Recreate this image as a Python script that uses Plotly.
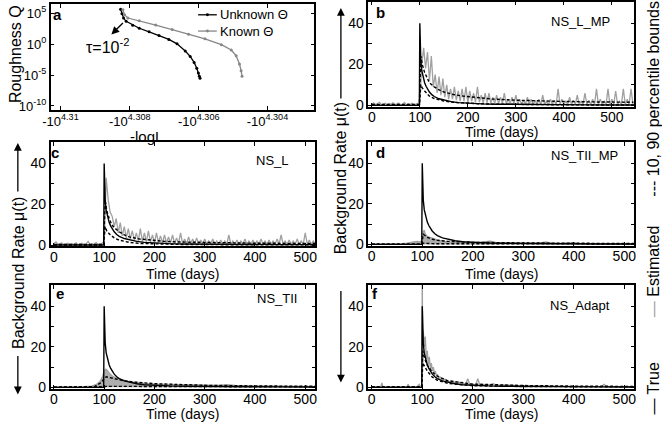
import plotly.graph_objects as go

W, H = 662, 427
FONT = "Liberation Sans, Arial, Helvetica, sans-serif"
GREY_EST = "rgb(160,160,160)"
GREY_KNOWN = "rgb(135,135,135)"

# ---------------- panel a : roughness vs -logL ----------------
negloglik_unknown = [-20336.0, -20334.2, -20332.0, -20328.5, -20319.6, -20310.7, -20297.4,
                     -20284.0, -20270.7, -20259.6, -20248.5, -20241.8, -20236.5, -20232.9,
                     -20230.7, -20229.4, -20228.5]
q_unknown = [4.3e5, 7.8e4, 1.6e4, 4.7e3, 1.1e3, 355, 93, 25, 5.6, 1.1, 7.8e-2, 9.8e-3,
             1.1e-3, 1.2e-4, 2.1e-5, 6.3e-6, 3.1e-6]
negloglik_known = [-20332.9, -20330.7, -20326.2, -20310.7, -20288.5, -20266.2, -20244.0,
                   -20221.8, -20199.6, -20186.2, -20179.6, -20175.1, -20172.9, -20171.6]
q_known = [3.4e5, 5.4e4, 1.6e4, 5.9e3, 1.2e3, 219, 40, 7.1, 0.79, 0.11, 1.3e-2, 5.9e-4,
           5.1e-5, 6.3e-6]
a_series_names = ["Unknown Θ", "Known Θ"]
a_xtick_exponents = [4.31, 4.308, 4.306, 4.304]
a_ytick_values = [1e5, 1e0, 1e-5, 1e-10]
a_ytick_labels = ["10<sup>5</sup>", "10<sup>0</sup>", "10<sup>-5</sup>", "10<sup>-10</sup>"]

# ---------------- time series panels ----------------
time_ticks = [0, 100, 200, 300, 400, 500]
rate_ticks = [0, 10, 20, 30, 40]
rate_ticklabels = ["0", "", "20", "", "40"]

days_true = [0, 99, 100, 101, 102, 104, 106, 108, 110, 113, 116, 120, 125, 130, 140, 150,
             165, 180, 200, 230, 260, 300, 350, 400, 450, 500, 550]
rate_true = [0, 0, 40, 28, 22, 17, 14.5, 12.5, 11, 9.3, 8, 6.5, 5.2, 4.3, 3.2, 2.5,
             1.8, 1.3, 1.0, 0.7, 0.55, 0.42, 0.33, 0.27, 0.22, 0.19, 0.16]

# NS_L_MP (b): estimated rate, one value every 4 days from day 0
est_b = [0.5, 1.2, 0.3, 0.8, 1.5, 0.2, 0.6, 1.0, 0.3, 0.9, 0.4, 1.3, 0.2, 0.7, 1.1, 0.3,
         0.5, 1.4, 0.2, 0.8, 0.4, 1.0, 0.3, 0.6, 0.9,
         0.5, 20, 28, 18, 26, 12, 24, 9, 15, 6,
         14, 5, 13, 4, 10, 3, 8, 3, 9, 2.5,
         7, 2, 8, 2, 9, 1.5, 7, 2, 6, 1.5,
         9, 1.5, 5, 1, 6, 1.2, 6, 1, 4, 1,
         5, 0.8, 4, 1, 6, 0.8, 3, 0.6, 4, 0.7,
         5, 0.5, 3, 0.6, 2.5, 0.5, 4, 0.5, 3, 0.4,
         2.5, 0.5, 3, 0.4, 5, 0.5, 2, 0.4, 3, 0.5,
         2.5, 0.4, 8, 0.5, 3, 0.4, 2, 0.5, 4, 0.4,
         2.5, 0.5, 5, 0.4, 2, 0.5, 6, 0.4, 2.5, 0.5,
         3, 0.4, 8, 0.5, 3, 0.4, 2, 0.5, 8, 0.4,
         3, 0.5, 7, 0.4, 2, 0.5, 8, 0.4, 3, 0.5,
         8, 0.5]
bound_days_b = [0, 99, 102, 105, 110, 115, 120, 130, 140, 150, 170, 190, 220, 250, 300, 350,
                400, 450, 500, 545]
upper_b = [0.4, 0.4, 24, 20, 16, 13, 11, 9, 7.5, 6.5, 5.3, 4.5, 3.7, 3.1, 2.5, 2.1, 1.9,
           1.7, 1.6, 1.5]
lower_b = [0.05, 0.05, 10, 8.5, 7, 5.5, 4.5, 3.3, 2.6, 2.1, 1.5, 1.1, 0.8, 0.6, 0.4, 0.3,
           0.25, 0.2, 0.2, 0.2]

# NS_L (c): estimated rate, one value every 4 days from day 0
est_c = [0.8, 1.5, 0.3, 0.6, 1.0, 0.2, 0.5, 0.9, 0.3, 0.7, 0.4, 1.1, 0.2, 0.6, 0.9, 0.3,
         0.5, 1.8, 0.2, 0.7, 0.4, 1.2, 0.3, 0.6, 0.8,
         2, 33, 22, 16, 14, 9, 13, 6, 11, 4.5,
         9, 3.5, 8, 3, 7, 2.5, 6, 2, 8, 1.8,
         6, 1.5, 7, 1.5, 5, 1.2, 6, 1.2, 4.5, 1,
         5, 1, 4, 1, 5, 0.8, 3.5, 0.8, 6, 0.7,
         3, 0.7, 4, 0.6, 3, 0.6, 3.5, 0.5, 2.5, 0.5,
         3, 0.5, 2, 0.5, 3, 0.4, 2, 0.5, 2.5, 0.4,
         2, 0.4, 5, 0.4, 2, 0.4, 2.5, 0.4, 2, 0.4,
         3, 0.4, 2, 0.4, 2.5, 0.4, 2, 0.4, 3, 0.4,
         2, 0.4, 2.5, 0.4, 2, 0.4, 3, 0.4, 5, 0.4,
         2, 0.4, 2.5, 0.4, 2, 0.4, 3, 0.4, 2, 0.4,
         6, 0.4, 2.5, 0.4, 2, 0.4]
bound_days_c = [0, 99, 102, 105, 110, 115, 120, 130, 140, 150, 170, 190, 220, 250, 300, 350,
                400, 450, 520]
upper_c = [0.3, 0.3, 22, 17, 13, 10, 8.5, 6.5, 5, 4, 3, 2.4, 1.8, 1.5, 1.2, 1.0, 0.9, 0.85, 0.8]
lower_c = [0.05, 0.05, 9, 7, 5.5, 4.3, 3.5, 2.4, 1.7, 1.3, 0.8, 0.6, 0.4, 0.3, 0.2, 0.15,
           0.12, 0.1, 0.1]

# NS_TII_MP (d)
days_d = [0, 20, 40, 60, 70, 80, 90, 95, 100, 102, 104, 106, 110, 115, 120, 130, 140, 150,
          170, 190, 210, 225, 235, 245, 260, 280, 300, 330, 345, 355, 370, 390, 400, 410,
          430, 460, 490, 520]
est_d = [0.1, 0.1, 0.2, 0.3, 0.6, 1.2, 1.5, 1.2, 2, 6.5, 7, 5, 4, 3.5, 3, 2.2, 1.6, 1.2,
         0.9, 0.8, 0.7, 1.3, 1.6, 1.0, 0.6, 0.5, 0.4, 0.5, 1.2, 0.6, 0.4, 0.5, 0.8, 0.4,
         0.3, 0.2, 0.2, 0.2]
bound_days_d = [0, 99, 102, 105, 110, 120, 130, 150, 200, 300, 400, 520]
upper_d = [0.1, 0.1, 5, 4.5, 3.5, 2.5, 2, 1.5, 1, 0.7, 0.5, 0.4]
lower_d = [0.05, 0.05, 0.6, 0.5, 0.4, 0.35, 0.3, 0.3, 0.25, 0.2, 0.2, 0.2]

# NS_TII (e)
days_e = [0, 30, 60, 75, 85, 92, 97, 100, 103, 106, 110, 115, 120, 130, 140, 150, 165, 180,
          200, 220, 240, 260, 280, 300, 330, 345, 360, 400, 450, 520]
est_e = [0.2, 0.2, 0.3, 0.6, 1.5, 3, 5.5, 8, 9, 8.5, 7, 5.8, 5, 4, 3.3, 2.8, 2.3, 1.9, 1.6,
         1.5, 1.4, 1.2, 1.1, 1, 1, 1.3, 0.9, 0.7, 0.5, 0.4]
bound_days_e = [0, 80, 95, 100, 104, 110, 120, 140, 160, 200, 250, 300, 400, 520]
upper_e = [0.1, 0.3, 2.5, 4.5, 5.2, 5, 4.3, 3.2, 2.6, 1.8, 1.3, 1.0, 0.7, 0.5]
lower_e = [0.05, 0.05, 0.1, 0.3, 0.5, 0.5, 0.5, 0.4, 0.4, 0.3, 0.3, 0.25, 0.2, 0.2]

# NS_Adapt (f)
est_f_pairs = [(0, 0.3), (10, 0.3), (18, 0.4), (20, 2.2), (22, 0.4), (40, 0.3), (60, 0.3),
               (70, 0.4), (72, 1.5), (74, 0.4), (90, 0.4), (94, 1.5), (96, 0.4), (98, 0.5),
               (99, 1), (100, 55), (101, 12), (102, 28), (104, 20), (106, 25), (108, 14),
               (110, 18), (112, 11), (114, 15), (116, 9), (118, 12), (120, 8), (122, 10),
               (124, 7), (126, 8), (128, 5.5), (130, 6.5), (133, 4.5), (136, 5), (140, 3.5),
               (145, 4), (150, 3), (155, 2.6), (160, 3), (166, 2.2), (172, 2.5), (180, 1.8),
               (186, 1.6), (190, 4.2), (194, 1.5), (200, 1.4), (206, 1.3), (210, 4.2),
               (214, 1.2), (220, 1.5), (230, 1.1), (240, 1.8), (250, 0.9), (260, 1.2),
               (280, 0.8), (300, 0.7), (330, 0.6), (360, 0.6), (400, 0.5), (440, 0.4),
               (455, 0.4), (460, 1.5), (465, 0.4), (480, 0.35), (520, 0.3)]
bound_days_f = [0, 99, 101, 103, 105, 110, 120, 130, 150, 200, 300, 400, 520]
upper_f = [0.3, 0.3, 18, 16, 14, 11, 7.5, 5.5, 3.3, 1.6, 0.9, 0.6, 0.45]
lower_f = [0.05, 0.05, 12, 11, 10, 8, 5, 3.5, 2, 0.8, 0.4, 0.3, 0.2]

# ---------------- layout helpers ----------------
def dom_x(l, r):
    return [l / W, r / W]

def dom_y(t, b):
    return [1 - b / H, 1 - t / H]

boxes = {
    "a": (43.3, 311, 4, 111.7),
    "b": (366, 636, 1.7, 108.3),
    "c": (43.3, 312, 144, 250),
    "d": (366, 636, 144, 249.3),
    "e": (43.3, 312, 289, 394.3),
    "f": (366, 636, 289, 394.3),
}
order = ["a", "b", "c", "d", "e", "f"]
N = len(order)

fig = go.Figure()

def axname(i, kind):
    return kind if i == 1 else f"{kind}{i}"

def refname(i, kind):
    return kind[0] if i == 1 else f"{kind[0]}{i}"

# panel a traces
fig.add_trace(go.Scatter(x=negloglik_unknown, y=q_unknown, mode="lines+markers",
                         name=a_series_names[0], line=dict(color="black", width=1.3),
                         marker=dict(size=3, color="black"), showlegend=False,
                         xaxis="x", yaxis="y"))
fig.add_trace(go.Scatter(x=negloglik_known, y=q_known, mode="lines+markers",
                         name=a_series_names[1], line=dict(color=GREY_KNOWN, width=1.3),
                         marker=dict(size=3, color=GREY_KNOWN), showlegend=False,
                         xaxis="x", yaxis="y"))

def days_every4(vals):
    return list(range(0, 4 * len(vals), 4))

est_f_days = [p[0] for p in est_f_pairs]
est_f = [p[1] for p in est_f_pairs]

panels = {
    "b": dict(est=(days_every4(est_b), est_b, False), bd=bound_days_b, up=upper_b, lo=lower_b),
    "c": dict(est=(days_every4(est_c), est_c, False), bd=bound_days_c, up=upper_c, lo=lower_c),
    "d": dict(est=(days_d, est_d, True), bd=bound_days_d, up=upper_d, lo=lower_d),
    "e": dict(est=(days_e, est_e, True), bd=bound_days_e, up=upper_e, lo=lower_e),
    "f": dict(est=(est_f_days, est_f, False), bd=bound_days_f, up=upper_f, lo=lower_f),
}

for i, key in enumerate(order, start=1):
    if key == "a":
        continue
    p = panels[key]
    xr, yr = refname(i, "x"), refname(i, "y")
    ex, ey, filled = p["est"]
    fig.add_trace(go.Scatter(x=ex, y=ey, mode="lines", showlegend=False,
                             line=dict(color=GREY_EST, width=1.3),
                             fill="tozeroy" if filled else None,
                             fillcolor="rgba(160,160,160,0.85)",
                             xaxis=xr, yaxis=yr))
    for arr in (p["up"], p["lo"]):
        fig.add_trace(go.Scatter(x=p["bd"], y=arr, mode="lines", showlegend=False,
                                 line=dict(color="black", width=1.4, dash="3px,2px"),
                                 xaxis=xr, yaxis=yr))
    fig.add_trace(go.Scatter(x=days_true, y=rate_true, mode="lines", showlegend=False,
                             line=dict(color="black", width=1.4),
                             xaxis=xr, yaxis=yr))

# empty traces so the tick-label overlay axes are rendered
for i in range(1, N + 1):
    fig.add_trace(go.Scatter(x=[], y=[], mode="lines", showlegend=False, hoverinfo="skip",
                             xaxis=f"x{i + N}", yaxis=refname(i, "y")))

axis_common = dict(showline=True, linecolor="black", linewidth=1.5, mirror="ticks",
                   ticks="inside", ticklen=4, tickwidth=1, tickcolor="black",
                   showgrid=False, zeroline=False,
                   tickfont=dict(family=FONT, size=14, color="black"))

layout = dict(width=W, height=H, margin=dict(l=0, r=0, t=0, b=0),
              paper_bgcolor="white", plot_bgcolor="white", showlegend=False,
              font=dict(family=FONT, color="black"))

for i, key in enumerate(order, start=1):
    l, r, t, b = boxes[key]
    xa = dict(axis_common, domain=dom_x(l, r), anchor=refname(i, "y"), showticklabels=False)
    ya = dict(axis_common, domain=dom_y(t, b), anchor=refname(i, "x"))
    lab = dict(overlaying=refname(i, "x"), anchor="free", side="bottom",
               showline=False, ticks="", showgrid=False, zeroline=False,
               tickfont=dict(family=FONT, size=14, color="black"))
    if key == "a":
        xr_ = [-20430.7, -20073.8]
        xa.update(range=xr_, tickvals=[-10 ** e for e in a_xtick_exponents])
        lab.update(range=xr_, tickvals=[-10 ** e for e in a_xtick_exponents],
                   ticktext=[f"-10<sup>{e:g}</sup>" for e in a_xtick_exponents],
                   tickfont=dict(family=FONT, size=13, color="black"),
                   position=1 - (b + 1.5) / H)
        ya.update(type="log", range=[-10.67, 6.48], tickvals=a_ytick_values,
                  ticktext=a_ytick_labels, tickfont=dict(family=FONT, size=13, color="black"))
    else:
        xr_ = [-7, 547] if key == "b" else [-6.5, 520]
        xa.update(range=xr_, tickvals=time_ticks)
        lab.update(range=xr_, tickvals=time_ticks, position=1 - (b + 0.5) / H)
        ya.update(range=[-0.7, 50.5], tickvals=rate_ticks, ticktext=rate_ticklabels)
    layout[axname(i, "xaxis")] = xa
    layout[axname(i, "yaxis")] = ya
    layout[f"xaxis{i + N}"] = lab

annotations = []
shapes = []

def ann(px, py, text, size, angle=0, color="black", xanchor="center"):
    annotations.append(dict(x=px / W, y=1 - py / H, xref="paper", yref="paper",
                            text=text, showarrow=False, textangle=angle,
                            xanchor=xanchor, yanchor="middle",
                            font=dict(family=FONT, size=size, color=color)))

def arrow(tail, tip):
    annotations.append(dict(x=tip[0] / W, y=1 - tip[1] / H, xref="paper", yref="paper",
                            ax=tail[0] - tip[0], ay=tail[1] - tip[1], text="",
                            showarrow=True, arrowhead=2, arrowsize=1.2, arrowwidth=1.3,
                            arrowcolor="black"))

# legend of panel a (drawn by hand)
for name, col, py in [(a_series_names[0], "black", 15), (a_series_names[1], GREY_KNOWN, 31.5)]:
    shapes.append(dict(type="line", xref="paper", yref="paper", x0=193 / W, x1=212 / W,
                       y0=1 - py / H, y1=1 - py / H, line=dict(color=col, width=1.3)))
    shapes.append(dict(type="circle", xref="paper", yref="paper",
                       x0=201 / W, x1=204 / W, y0=1 - (py + 1.5) / H, y1=1 - (py - 1.5) / H,
                       fillcolor=col, line=dict(color=col, width=0)))
    ann(213, py, name, 13, xanchor="left")

# panel letters
for k, (px, py) in {"a": (50, 15), "b": (378, 13), "c": (48, 155), "d": (378, 155),
                    "e": (53, 298), "f": (373, 298)}.items():
    ann(px, py, f"<b>{k}</b>", 15)

# model names
for name, (px, py) in {"NS_L_MP": (581, 22), "NS_L": (269, 163), "NS_TII_MP": (585, 158),
                       "NS_TII": (273, 303), "NS_Adapt": (581, 310)}.items():
    ann(px, py, name, 13)

# axis titles
for px, py in [(501, 134), (177, 278), (501, 278), (177, 420), (501, 420)]:
    ann(px, py, "Time (days)", 14)
ann(141, 138, "-logL", 15)
ann(7, 55, "Roughness Q", 16, angle=-90)
ann(10, 277, "Background Rate μ(t)", 16, angle=-90)
ann(338, 181, "Background Rate μ(t)", 16, angle=-90)
arrow((10, 195), (10, 145))
arrow((10, 360), (10, 400))
arrow((338, 100), (338, 8))
arrow((338, 295), (338, 388))

# tau annotation in panel a
ann(101, 47, "τ=10<sup>-2</sup>", 16)
arrow((118, 22), (105, 35))

# right-hand legend text
ann(655, 394, "— True", 16, angle=-90)
ann(655, 275, "<span style='color:rgb(160,160,160)'>—</span> Estimated", 16, angle=-90)
ann(655, 100, "--- 10, 90 percentile bounds", 16, angle=-90)

layout["annotations"] = annotations
layout["shapes"] = shapes
fig.update_layout(**layout)
fig.write_html("out.html", config={"displayModeBar": False},
               post_script="document.body.style.margin='0';document.body.style.overflow='hidden';")
